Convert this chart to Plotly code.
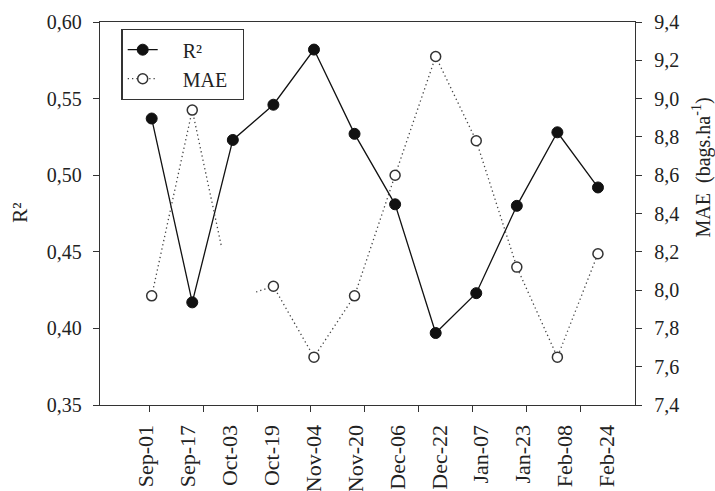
import plotly.graph_objects as go

# ---- data ----
dates = ["Sep-01", "Sep-17", "Oct-03", "Oct-19", "Nov-04", "Nov-20",
         "Dec-06", "Dec-22", "Jan-07", "Jan-23", "Feb-08", "Feb-24"]
r2 = [0.537, 0.417, 0.523, 0.546, 0.582, 0.527,
      0.481, 0.397, 0.423, 0.480, 0.528, 0.492]
mae = [7.97, 8.94, 7.95, 8.02, 7.65, 7.97,
       8.60, 9.22, 8.78, 8.12, 7.65, 8.19]

FONT = "Liberation Serif, Times New Roman, serif"
INK = "#222222"
NB = "\u00a0"

idx = list(range(len(dates)))
# in the original figure the marks, tick labels and tick marks use three
# slightly different spacings; reproduce that with index-based positions
label_pos = [-0.14 + 1.033 * k for k in range(len(dates))]
tick_pos = [-0.06 + 1.3286 * k for k in range(9)]
x_range = [-1.274, 11.913]

fig = go.Figure()
fig.add_trace(go.Scatter(
    x=idx, y=r2, name=NB * 4 + "R²" + NB * 3, mode="lines+markers",
    line=dict(color="#111111", width=1.3),
    marker=dict(symbol="circle", size=11, color="#111111",
                line=dict(color="#111111", width=1)),
    xaxis="x", yaxis="y"))
fig.add_trace(go.Scatter(
    x=idx, y=mae, name=NB * 4 + "MAE" + NB * 2, mode="lines+markers",
    line=dict(color="#444444", width=1.3, dash="1.3px,3px"),
    marker=dict(symbol="circle", size=10, color="white",
                line=dict(color="#333333", width=1.5)),
    xaxis="x", yaxis="y2"))

axis_common = dict(showgrid=False, zeroline=False, showline=True,
                   linecolor="#333333", linewidth=1.3, automargin=False)

fig.update_layout(
    width=715, height=491,
    margin=dict(l=100, r=80, t=22, b=86, pad=0, autoexpand=False),
    paper_bgcolor="white", plot_bgcolor="white",
    separators=",.",
    font=dict(family=FONT, size=20, color=INK),
    xaxis=dict(range=x_range, tickmode="array", tickvals=label_pos,
               ticktext=dates, tickangle=-90, ticks="", mirror=True,
               ticklabelstandoff=10,
               tickfont=dict(family=FONT, size=22, color=INK), **axis_common),
    xaxis2=dict(range=x_range, overlaying="x", anchor="y", side="bottom",
                tickmode="array", tickvals=tick_pos, ticks="outside",
                ticklen=6, tickwidth=1.3, tickcolor="#333333",
                showticklabels=False, showgrid=False, zeroline=False,
                showline=False, automargin=False),
    yaxis=dict(range=[0.35, 0.60], dtick=0.05, tick0=0.35, tickformat=".2f",
               ticks="outside", ticklen=6, tickwidth=1.3, tickcolor="#333333",
               ticklabelstandoff=7,
               tickfont=dict(family=FONT, size=20, color=INK), **axis_common),
    yaxis2=dict(range=[7.4, 9.4], dtick=0.2, tick0=7.4, tickformat=".1f",
                overlaying="y", side="right", anchor="x",
                ticks="outside", ticklen=6, tickwidth=1.3, tickcolor="#333333",
                ticklabelstandoff=8,
                tickfont=dict(family=FONT, size=20, color=INK), **axis_common),
    legend=dict(x=0.04, y=0.982, xanchor="left", yanchor="top",
                bgcolor="white", bordercolor="#333333", borderwidth=1.3,
                font=dict(family=FONT, size=20, color=INK),
                tracegroupgap=0),
    showlegend=True,
)

# a dummy trace keeps xaxis2 alive for its tick marks
fig.add_trace(go.Scatter(x=[None], y=[None], xaxis="x2", yaxis="y",
                         showlegend=False, hoverinfo="skip"))

# in the source the MAE point of Oct-03 is blanked out (white patch)
fig.add_shape(type="rect", xref="x", yref="y2",
              x0=1.71, x1=2.53, y0=7.88, y1=8.23,
              fillcolor="white", line=dict(width=0), layer="above")

fig.add_annotation(text="R²", xref="paper", yref="paper",
                   x=-0.1495, y=0.502, xanchor="center", yanchor="middle",
                   textangle=-90, showarrow=False,
                   font=dict(family=FONT, size=21, color=INK))
fig.add_annotation(text="MAE  (bags.ha<sup>-1</sup>)", xref="paper", yref="paper",
                   x=1.125, y=0.62, xanchor="center", yanchor="middle",
                   textangle=-90, showarrow=False,
                   font=dict(family=FONT, size=20, color=INK))

fig.write_html("out.html")
